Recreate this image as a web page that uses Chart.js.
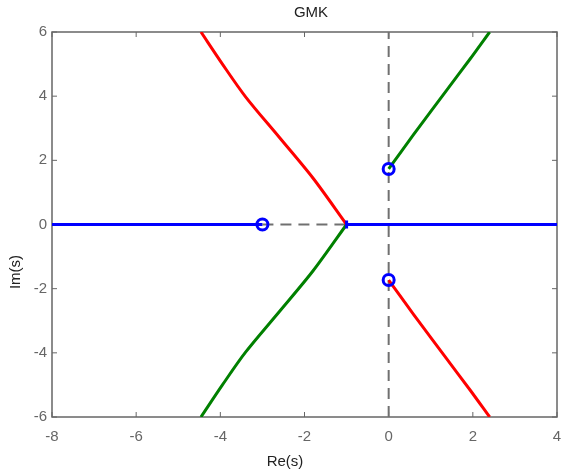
<!DOCTYPE html>
<html>
<head>
<meta charset="utf-8">
<script src="https://cdn.jsdelivr.net/npm/chart.js@4.4.0/dist/chart.umd.min.js"></script>
<style>
  html, body { margin: 0; padding: 0; background: #fff; }
  canvas { display: block; }
</style>
</head>
<body>
<canvas id="locus" width="563" height="470"></canvas>
<script>
// ramas del lugar de las raices
const redUpX = [-1, -1.8, -2.6, -3.4, -3.95, -4.46];
const redUpY = [0, 1.45, 2.72, 3.98, 5.0, 6.0];
const greenUpX = [0, 0.59, 1.38, 1.93, 2.40];
const greenUpY = [1.73, 2.80, 4.19, 5.15, 6.0];

// eje real
const realLeftX = [-8, -3];
const realRightX = [-1, 4];
const dashRealX = [-3, -1];
const dashImY = [-6, 6];

// ceros y polos
const zerosX = [-3, 0, 0];
const zerosY = [0, 1.732, -1.732];
const polesX = [-1];
const polesY = [0];

const xTicks = [-8, -6, -4, -2, 0, 2, 4];
const yTicks = [-6, -4, -2, 0, 2, 4, 6];

const pts = (xs, ys) => xs.map((x, i) => ({ x: x, y: ys[i] }));
const conj = (xs, ys) => xs.map((x, i) => ({ x: x, y: -ys[i] }));

const GREY = "#666666";
const FONT = "Liberation Sans, Arial, sans-serif";
const PLOT_RIGHT = 557;

const lineSet = (data, color, order, extra) => Object.assign({
  data: data,
  showLine: true,
  borderColor: color,
  backgroundColor: color,
  borderWidth: 3,
  pointRadius: 0,
  tension: 0,
  order: order
}, extra || {});

// caja, marcas hacia dentro y textos
const frame = {
  id: "frame",
  afterLayout(chart) {
    // el "4" puede salirse por la derecha, como en el original
    const a = chart.chartArea;
    const xs = chart.scales.x;
    a.right = PLOT_RIGHT;
    a.width = a.right - a.left;
    xs.right = PLOT_RIGHT;
    xs.width = xs.right - xs.left;
    xs.configure();
    xs._labelItems = null;
  },
  beforeDatasetsDraw(chart) {
    const { ctx, chartArea: a, scales } = chart;
    ctx.save();
    ctx.strokeStyle = GREY;
    ctx.lineWidth = 1.5;
    ctx.strokeRect(a.left, a.top, a.right - a.left, a.bottom - a.top);
    ctx.lineWidth = 1;
    ctx.beginPath();
    xTicks.forEach(v => {
      const px = scales.x.getPixelForValue(v);
      ctx.moveTo(px, a.bottom); ctx.lineTo(px, a.bottom - 5);
      ctx.moveTo(px, a.top); ctx.lineTo(px, a.top + 5);
    });
    yTicks.forEach(v => {
      const py = scales.y.getPixelForValue(v);
      ctx.moveTo(a.left, py); ctx.lineTo(a.left + 5, py);
      ctx.moveTo(a.right, py); ctx.lineTo(a.right - 5, py);
    });
    ctx.stroke();
    ctx.restore();
  },
  afterDraw(chart) {
    const ctx = chart.ctx;
    ctx.save();
    ctx.fillStyle = "#222";
    ctx.font = "15px " + FONT;
    ctx.textAlign = "center";
    ctx.textBaseline = "middle";
    ctx.fillText("GMK", 311, 13);
    ctx.fillText("Re(s)", 285, 462);
    ctx.translate(16, 272);
    ctx.rotate(-Math.PI / 2);
    ctx.fillText("Im(s)", 0, 0);
    ctx.restore();
  }
};

new Chart(document.getElementById("locus"), {
  type: "scatter",
  data: {
    datasets: [
      lineSet(pts(zerosX, zerosY), "#0000ff", 0, {
        showLine: false, pointRadius: 5.5, pointBorderWidth: 3,
        backgroundColor: "rgba(0,0,0,0)", pointBackgroundColor: "rgba(0,0,0,0)"
      }),
      lineSet(pts(polesX, polesY), "#0000ff", 1, {
        showLine: false, pointStyle: "line", rotation: 90, pointRadius: 4, pointBorderWidth: 3
      }),
      lineSet(pts(redUpX, redUpY), "#ff0000", 2, { tension: 0.3 }),
      lineSet(conj(greenUpX, greenUpY), "#ff0000", 2, { tension: 0.3 }),
      lineSet(pts(greenUpX, greenUpY), "#008000", 2, { tension: 0.3 }),
      lineSet(conj(redUpX, redUpY), "#008000", 2, { tension: 0.3 }),
      lineSet(pts(realLeftX, [0, 0]), "#0000ff", 3),
      lineSet(pts(realRightX, [0, 0]), "#0000ff", 3),
      lineSet(pts(dashRealX, [0, 0]), "#707070", 4, { borderWidth: 2, borderDash: [11, 7] }),
      lineSet(pts([0, 0], dashImY), "#707070", 4, { borderWidth: 2, borderDash: [11, 7] })
    ]
  },
  options: {
    responsive: false,
    animation: false,
    layout: { padding: { top: 32, right: 4, left: 0, bottom: 0 } },
    plugins: { legend: { display: false }, tooltip: { enabled: false } },
    scales: {
      x: {
        type: "linear",
        min: -8, max: 4,
        afterFit: s => { s.height = 53; },
        grid: { display: false, drawTicks: false },
        border: { display: false },
        ticks: {
          stepSize: 2, padding: 11, color: GREY, maxRotation: 0,
          font: { family: FONT, size: 15 }
        }
      },
      y: {
        type: "linear",
        min: -6, max: 6,
        afterFit: s => { s.width = 52; },
        grid: { display: false, drawTicks: false },
        border: { display: false },
        ticks: {
          stepSize: 2, padding: 5, color: GREY,
          font: { family: FONT, size: 15 }
        }
      }
    }
  },
  plugins: [frame]
});
</script>
</body>
</html>
